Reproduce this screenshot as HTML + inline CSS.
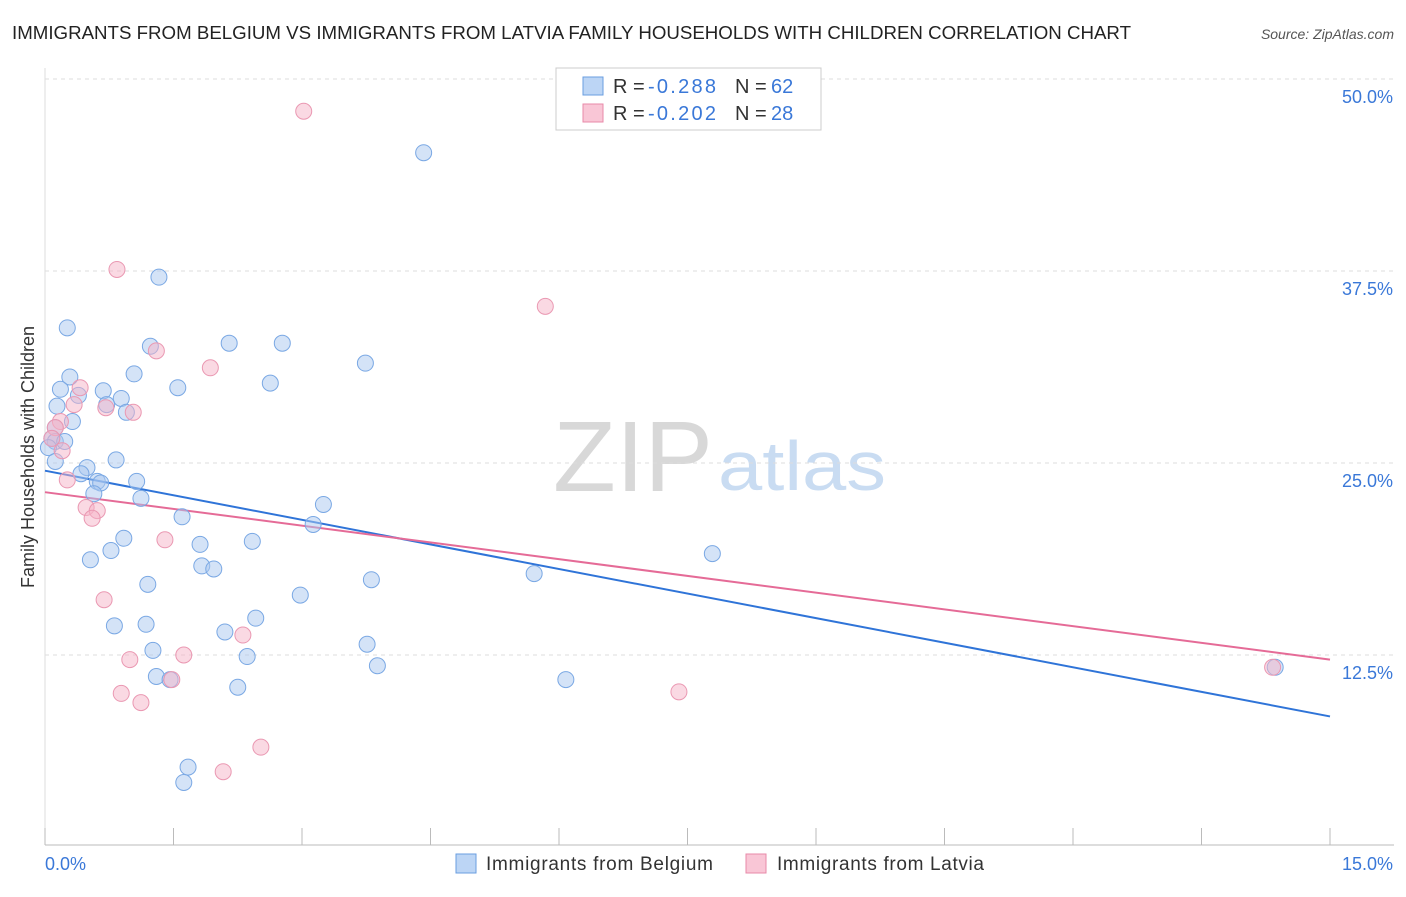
<!DOCTYPE html>
<html><head><meta charset="utf-8"><style>
body{margin:0;background:#fff;font-family:"Liberation Sans",sans-serif;}
svg text{font-family:"Liberation Sans",sans-serif;}
</style></head><body>
<svg id="chart" width="1406" height="892">
<text x="12" y="39" font-size="18" fill="#222" textLength="1119" lengthAdjust="spacingAndGlyphs">IMMIGRANTS FROM BELGIUM VS IMMIGRANTS FROM LATVIA FAMILY HOUSEHOLDS WITH CHILDREN CORRELATION CHART</text>
<text x="1394" y="39" font-size="14" fill="#555" font-style="italic" text-anchor="end">Source: ZipAtlas.com</text>
<g>
<text x="553" y="491" font-size="100" fill="#d8d8d8" font-family="Liberation Serif" textLength="160" lengthAdjust="spacingAndGlyphs">ZIP</text>
<text x="718" y="490" font-size="70" fill="#c9dcf2" textLength="168" lengthAdjust="spacingAndGlyphs">atlas</text>
</g>
<g id="grid"></g><g id="axes"></g><g id="lines"></g><g id="pts"></g>
<text transform="translate(34,457) rotate(-90)" font-size="18" fill="#333" text-anchor="middle">Family Households with Children</text>
<g>
<rect x="556" y="68" width="265" height="62" fill="#fff" stroke="#ccc"/>
<rect x="583" y="77" width="20" height="18" fill="#bcd5f5" stroke="#6a9ee0"/>
<text x="613" y="93" font-size="20" fill="#333">R =</text>
<text x="648" y="93" font-size="20" fill="#3a78d8" textLength="68">-0.288</text>
<text x="735" y="93" font-size="20" fill="#333">N =</text>
<text x="771" y="93" font-size="20" fill="#3a78d8">62</text>
<rect x="583" y="104" width="20" height="18" fill="#f9c6d6" stroke="#e88aa8"/>
<text x="613" y="120" font-size="20" fill="#333">R =</text>
<text x="648" y="120" font-size="20" fill="#3a78d8" textLength="68">-0.202</text>
<text x="735" y="120" font-size="20" fill="#333">N =</text>
<text x="771" y="120" font-size="20" fill="#3a78d8">28</text>
</g>
<g>
<rect x="456" y="854" width="20" height="19" fill="#bcd5f5" stroke="#6a9ee0"/>
<text x="486" y="870" font-size="19" fill="#333" textLength="227">Immigrants from Belgium</text>
<rect x="746" y="854" width="20" height="19" fill="#f9c6d6" stroke="#e88aa8"/>
<text x="777" y="870" font-size="19" fill="#333" textLength="207">Immigrants from Latvia</text>
</g>
</svg>
<script>
const blueX=[4.42,1.33,0.26,1.23,2.15,2.77,3.74,1.04,0.29,1.55,2.63,0.18,0.68,0.39,0.89,0.14,0.72,0.95,0.32,0.12,0.08,0.12,0.23,0.04,0.12,0.83,0.49,0.42,1.07,0.61,0.65,0.57,1.12,3.25,1.60,3.13,0.92,2.42,1.81,0.77,0.53,7.79,1.83,1.97,5.71,3.81,1.20,2.98,2.46,0.81,1.18,2.10,3.76,1.26,2.36,3.88,14.36,1.30,1.46,2.25,6.08,1.67,1.62];
const blueY=[45.2,37.1,33.8,32.6,32.8,32.8,31.5,30.8,30.6,29.9,30.2,29.8,29.7,29.4,29.2,28.7,28.8,28.3,27.7,27.3,26.6,26.4,26.4,26.0,25.1,25.2,24.7,24.3,23.8,23.8,23.7,23.0,22.7,22.3,21.5,21.0,20.1,19.9,19.7,19.3,18.7,19.1,18.3,18.1,17.8,17.4,17.1,16.4,14.9,14.4,14.5,14.0,13.2,12.8,12.4,11.8,11.7,11.1,10.9,10.4,10.9,5.2,4.2];
const pinkX=[3.02,0.84,5.84,1.30,1.93,0.41,0.71,0.34,1.03,0.18,0.12,0.08,0.20,0.26,0.48,0.61,0.55,1.40,0.69,2.31,0.99,1.62,0.89,1.12,1.48,7.40,2.52,2.08,14.33];
const pinkY=[47.9,37.6,35.2,32.3,31.2,29.9,28.6,28.8,28.3,27.7,27.3,26.6,25.8,23.9,22.1,21.9,21.4,20.0,16.1,13.8,12.2,12.5,10.0,9.4,10.9,10.1,6.5,4.9,11.7];
const blueTrend=[24.5,8.5];
const pinkTrend=[23.1,12.2];
const yTicks=[12.5,25.0,37.5,50.0];
const yTickLabels=["12.5%","25.0%","37.5%","50.0%"];
const xTicks=[0,1.5,3,4.5,6,7.5,9,10.5,12,13.5,15];
const NS="http://www.w3.org/2000/svg";
const X=v=>45+v/15*1285, Y=v=>847-v/12.5*192;
function mk(tag,attrs,parent){const e=document.createElementNS(NS,tag);for(const k in attrs)e.setAttribute(k,attrs[k]);document.getElementById(parent).appendChild(e);return e;}
yTicks.forEach((t,i)=>{
 const g=mk('line',{x1:45,x2:1394,y1:Y(t),y2:Y(t),stroke:'#ddd','stroke-dasharray':'4,4'},'grid');
 
 
 const l=mk('text',{x:1393,y:Y(t)+24,'font-size':18,fill:'#3a78d8','text-anchor':'end'},'grid');l.textContent=yTickLabels[i];
 
 
});
const ax=mk('line',{x1:45,x2:1394,y1:845,y2:845,stroke:'#bbb'},'axes');


const ay=mk('line',{x1:45,x2:45,y1:68,y2:845,stroke:'#ddd'},'axes');


xTicks.forEach(t=>{const e=mk('line',{x1:X(t),x2:X(t),y1:828,y2:845,stroke:'#bbb'},'axes');
 
 });
const x0=mk('text',{x:45,y:870,'font-size':18,fill:'#3a78d8'},'axes');x0.textContent='0.0%';


const x1=mk('text',{x:1393,y:870,'font-size':18,fill:'#3a78d8','text-anchor':'end'},'axes');x1.textContent='15.0%';


function pts(xs,ys,fill,stroke,name){xs.forEach((v,i)=>{const c=mk('circle',{cx:X(v),cy:Y(ys[i]),r:8,fill:fill,'fill-opacity':0.5,stroke:stroke,'stroke-width':1},'pts');
 
 });}
pts(blueX,blueY,'#a9c8f0','#7aa8e4','belgium-point');
pts(pinkX,pinkY,'#f5b3c8','#ea98b2','latvia-point');
const bl=mk('line',{x1:X(0),y1:Y(blueTrend[0]),x2:X(15),y2:Y(blueTrend[1]),stroke:'#2f74d8','stroke-width':2},'lines');


const pl=mk('line',{x1:X(0),y1:Y(pinkTrend[0]),x2:X(15),y2:Y(pinkTrend[1]),stroke:'#e56b97','stroke-width':2},'lines');


</script>
</body></html>
